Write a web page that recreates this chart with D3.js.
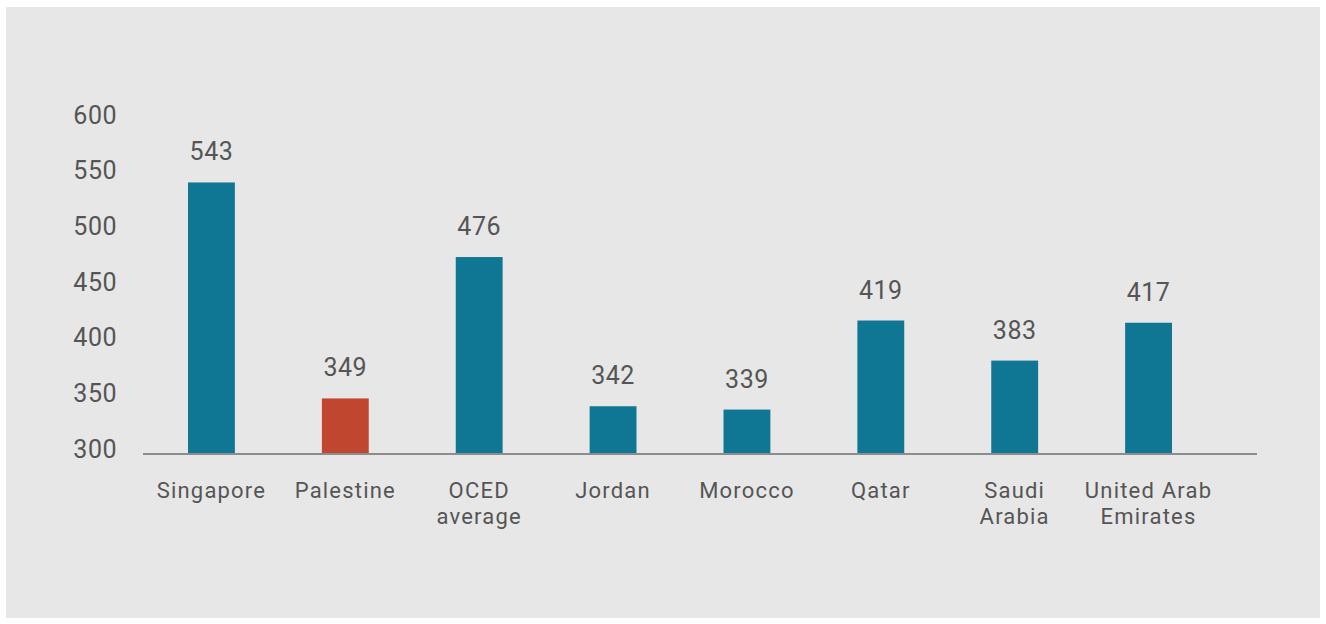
<!DOCTYPE html>
<html>
<head>
<meta charset="utf-8">
<script src="https://cdn.jsdelivr.net/npm/d3@7"></script>
<style>
  body { margin: 0; background: #fff; }
  text { font-family: Roboto, "Open Sans", sans-serif; fill: #555; }
</style>
</head>
<body>
<div id="chart"></div>
<script>
// data
var countries = ["Singapore", "Palestine", "OCED average", "Jordan", "Morocco", "Qatar", "Saudi Arabia", "United Arab Emirates"];
var labelLines = [["Singapore"], ["Palestine"], ["OCED", "average"], ["Jordan"], ["Morocco"], ["Qatar"], ["Saudi", "Arabia"], ["United Arab", "Emirates"]];
var scores = [543, 349, 476, 342, 339, 419, 383, 417];
var highlight = "Palestine";
var yTicks = [300, 350, 400, 450, 500, 550, 600];

var width = 1326, height = 624;

var svg = d3.select("#chart").append("svg")
    .attr("width", width)
    .attr("height", height);

// grey panel
svg.append("rect")
    .attr("x", 6).attr("y", 7)
    .attr("width", 1314).attr("height", 611)
    .attr("fill", "#e7e7e7");

var x = d3.scaleBand()
    .domain(countries)
    .range([144.5, 1215.5])
    .paddingInner(0.65)
    .paddingOuter(0.325);

var y = d3.scaleLinear()
    .domain([300, 600])
    .range([453, 119]);

// y tick labels
svg.append("g")
    .selectAll("text")
    .data(yTicks)
  .enter().append("text")
    .attr("x", 117)
    .attr("y", function(d) { return y(d) - 2; })
    .attr("text-anchor", "end")
    .attr("dominant-baseline", "middle")
    .style("font-size", "25px")
    .style("letter-spacing", "0.5px")
    .text(function(d) { return d; });

// bars
svg.selectAll(".bar")
    .data(scores)
  .enter().append("rect")
    .attr("class", "bar")
    .attr("x", function(d, i) { return x(countries[i]); })
    .attr("y", function(d) { return y(d); })
    .attr("width", x.bandwidth())
    .attr("height", function(d) { return y(300) - y(d); })
    .attr("fill", function(d, i) { return countries[i] === highlight ? "#c0462f" : "#0f7794"; });

// value labels
svg.selectAll(".val")
    .data(scores)
  .enter().append("text")
    .attr("class", "val")
    .attr("x", function(d, i) { return x(countries[i]) + x.bandwidth() / 2; })
    .attr("y", function(d) { return y(d) - 22; })
    .attr("text-anchor", "middle")
    .style("font-size", "25px")
    .style("letter-spacing", "0.5px")
    .text(function(d) { return d; });

// baseline
svg.append("line")
    .attr("x1", 143).attr("x2", 1257)
    .attr("y1", 454).attr("y2", 454)
    .attr("stroke", "#8c8c8c")
    .attr("stroke-width", 2);

// category labels
var cats = svg.selectAll(".cat")
    .data(countries)
  .enter().append("text")
    .attr("class", "cat")
    .attr("text-anchor", "middle")
    .style("font-size", "22px")
    .style("letter-spacing", "1.2px")
    .attr("x", function(d) { return x(d) + x.bandwidth() / 2; })
    .attr("y", 498);

cats.selectAll("tspan")
    .data(function(d, i) { return labelLines[i]; })
  .enter().append("tspan")
    .attr("x", function() { var p = this.parentNode; return p.getAttribute("x"); })
    .attr("dy", function(d, i) { return i === 0 ? 0 : 26; })
    .text(function(d) { return d; });
</script>
</body>
</html>
